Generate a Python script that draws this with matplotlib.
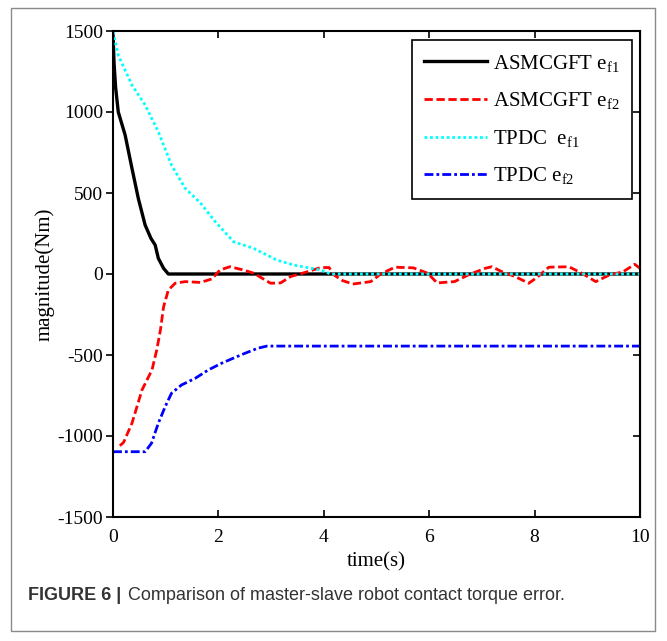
import matplotlib
matplotlib.use("Agg")
import matplotlib.pyplot as plt
from matplotlib.patches import Rectangle

# ASMCGFT e_f1 (black solid)
t_asm1 = [0.0, 0.02, 0.05, 0.1, 0.23, 0.36, 0.48, 0.61, 0.72, 0.8, 0.86, 0.96, 1.05, 10.0]
v_asm1 = [1480, 1300, 1150, 1000, 858, 652, 467, 302, 220, 179, 97, 35, 0, 0]

# ASMCGFT e_f2 (red dashed)
t_asm2 = [0.13, 0.2, 0.36, 0.55, 0.74, 0.83, 0.9, 0.96, 1.05, 1.18, 1.37, 1.66, 1.88,
          2.03, 2.22, 2.47, 2.67, 2.85, 2.99, 3.18, 3.37, 3.69, 3.94, 4.1, 4.19, 4.35,
          4.55, 4.89, 5.08, 5.35, 5.7, 5.97, 6.15, 6.48, 6.74, 7.06, 7.19, 7.38, 7.63,
          7.89, 8.05, 8.27, 8.65, 8.9, 9.16, 9.42, 9.68, 9.9, 10.0]
v_asm2 = [-1060, -1040, -921, -716, -592, -469, -346, -202, -99, -57, -47, -52, -30,
          25, 45, 25, 5, -30, -57, -55, -16, 14, 40, 40, -5, -40,
          -62, -47, 0, 42, 38, 5, -55, -47, -6, 35, 45, 14, -16,
          -57, -20, 42, 45, 4, -47, -6, 14, 60, 35]

# TPDC e_f1 (cyan dotted)
t_tpdc1 = [0.0, 0.1, 0.36, 0.61, 0.86, 1.11, 1.37, 1.66, 1.94, 2.29, 2.67, 3.11, 3.43, 3.94, 4.13, 10.0]
v_tpdc1 = [1495, 1350, 1166, 1043, 878, 672, 529, 438, 323, 199, 158, 86, 55, 25, 0, 0]

# TPDC e_f2 (blue dash-dot)
t_tpdc2 = [0.0, 0.61, 0.73, 0.86, 0.99, 1.11, 1.3, 1.56, 1.81, 2.06, 2.28, 2.5, 2.75, 2.92, 10.0]
v_tpdc2 = [-1097, -1097, -1045, -921, -819, -736, -685, -644, -592, -551, -520, -490, -458, -445, -445]

x_ticks = [0, 2, 4, 6, 8, 10]
y_ticks = [-1500, -1000, -500, 0, 500, 1000, 1500]

plt.rcParams.update({
    "font.family": "Liberation Serif",
    "mathtext.fontset": "custom",
    "mathtext.rm": "Liberation Serif",
    "mathtext.it": "Liberation Serif",
    "axes.unicode_minus": False,
})

W, H = 667, 641
fig = plt.figure(figsize=(W / 100, H / 100), dpi=100)
ax = fig.add_axes([113 / W, 1 - 517 / H, (640 - 113) / W, (517 - 31) / H])

lw = 2.0
ax.plot(t_asm1, v_asm1, color="black", lw=2.4, label=r"ASMCGFT $\mathregular{e_{f1}}$")
ax.plot(t_asm2, v_asm2, color="red", lw=lw, dashes=(3, 1.3), label=r"ASMCGFT $\mathregular{e_{f2}}$")
ax.plot(t_tpdc1, v_tpdc1, color="cyan", lw=lw, dashes=(1, 1), label=r"TPDC  $\mathregular{e_{f1}}$")
ax.plot(t_tpdc2, v_tpdc2, color="blue", lw=lw, dashes=(3.2, 1.1, 1, 1.1), label=r"TPDC $\mathregular{e_{f2}}$")

ax.set_xlim(0, 10)
ax.set_ylim(-1500, 1500)
ax.set_xticks(x_ticks)
ax.set_yticks(y_ticks)
ax.tick_params(axis="both", labelsize=14, length=5, width=1.2)
ax.tick_params(axis="x", direction="in", top=True, pad=9)
ax.tick_params(axis="y", direction="out", right=False, pad=2)
ax.secondary_yaxis("right").tick_params(direction="in", labelright=False, length=5, width=1.2)
for s in ax.spines.values():
    s.set_linewidth(1.5)

ax.set_xlabel("time(s)", fontsize=15, labelpad=4)
ax.set_ylabel("magnitude(Nm)", fontsize=15, labelpad=2)

leg = ax.legend(loc="upper right", bbox_to_anchor=((632 - 113) / 527, (517 - 40) / 486),
                borderaxespad=0, fontsize=15,
                frameon=True, fancybox=False, edgecolor="black", framealpha=1,
                handlelength=3.0, handletextpad=0.3, labelspacing=0.8, borderpad=0.6)
leg.get_frame().set_linewidth(1.2)

# outer frame and caption
fig.patches.append(Rectangle((11 / W, 1 - 631 / H), (655 - 11) / W, (631 - 8) / H,
                             transform=fig.transFigure, fill=False,
                             edgecolor="#8a8a8a", linewidth=1.0))
bold = fig.text(28 / W, 1 - 595 / H, "FIGURE 6 |", family="Liberation Sans",
                fontweight="bold", fontsize=13, va="center", ha="left", color="#333333")
fig.text(128 / W, 1 - 595 / H, "Comparison of master-slave robot contact torque error.",
         family="Liberation Sans", fontsize=13, va="center", ha="left", color="#333333")

fig.savefig("out.png", dpi=100)
